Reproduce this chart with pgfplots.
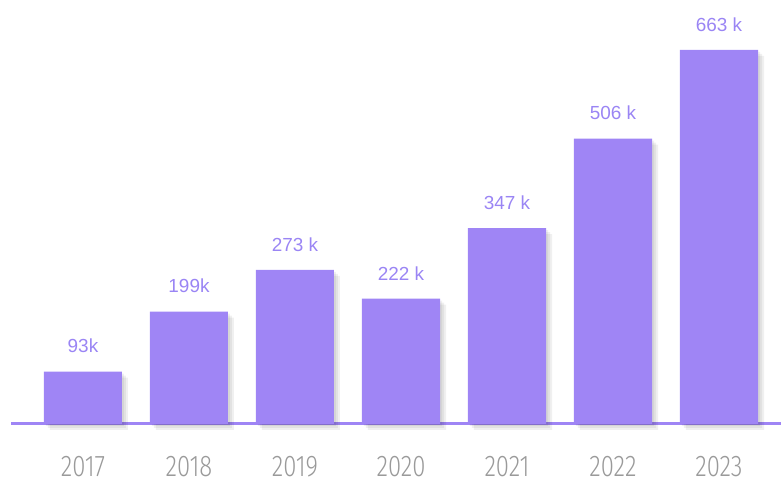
\documentclass[border=0pt]{standalone}
\usepackage{fontspec}
\setmainfont{Liberation Sans}
\newfontfamily\yearfont{Fira Sans Light}[FakeStretch=0.8]
\usepackage{pgfplots}
\pgfplotsset{compat=1.18}
\usetikzlibrary{shadows}
\definecolor{barc}{HTML}{9F85F5}
\definecolor{labc}{HTML}{9A85F4}
\definecolor{yearc}{HTML}{9A9A9A}
\begin{document}
\begin{tikzpicture}[x=1bp,y=1bp]
\useasboundingbox (-11,-60) rectangle (770,424);
\begin{axis}[at={(0,0)}, anchor=south west, scale only axis,
  width=770bp, height=424bp,
  xmin=-0.679, xmax=6.585, ymin=0, ymax=751.5,
  axis x line*=bottom, axis y line=none,
  x axis line style={line width=3bp, draw=barc},
  ybar, bar width=0.736,
  xtick=data, xticklabels={2017,2018,2019,2020,2021,2022,2023},
  xtick style={draw=none}, major tick length=0pt,
  xticklabel style={font=\yearfont\fontsize{30}{33}\selectfont, text=yearc, anchor=center, yshift=-43bp},
  ytick=\empty,
  nodes near coords, point meta=explicit symbolic,
  every node near coord/.append style={font=\fontsize{19}{22}\selectfont, text=labc, anchor=center, yshift=25.5bp},
  clip=false]
\addplot[fill=barc, draw=none,
  preaction={fill=black, opacity=0.06, transform canvas={xshift=6bp, yshift=-6bp}},
  preaction={fill=black, opacity=0.06, transform canvas={xshift=4bp, yshift=-4bp}},
  preaction={fill=black, opacity=0.06, transform canvas={xshift=2bp, yshift=-2bp}}]
  table[col sep=comma, row sep=\\, x=x, y=y, meta=label] {
  x,y,label\\
  0,93,93k\\
  1,199,199k\\
  2,273,273 k\\
  3,222,222 k\\
  4,347,347 k\\
  5,506,506 k\\
  6,663,663 k\\
};
\end{axis}
\end{tikzpicture}
\end{document}
